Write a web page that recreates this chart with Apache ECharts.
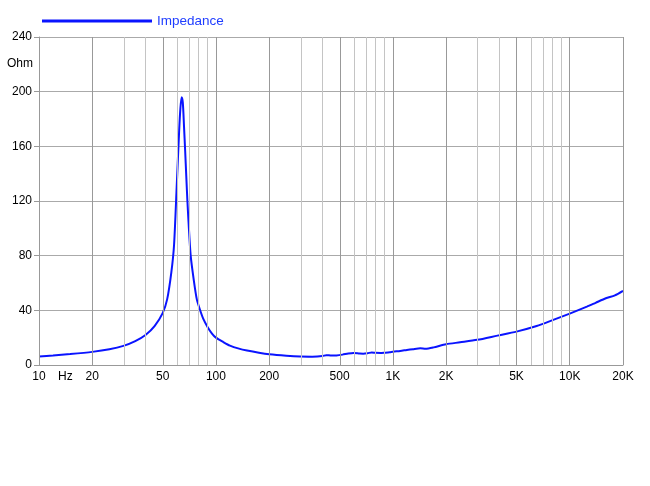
<!DOCTYPE html>
<html><head><meta charset="utf-8">
<script src="https://cdn.jsdelivr.net/npm/echarts@6/dist/echarts.min.js"></script>
<style>html,body{margin:0;padding:0;background:#fff}#c{width:650px;height:486px}</style>
</head><body><div id="c"></div>
<script>
const freqs = [10,12,15,20,25,30,35,40,45,50,53,56,58,60,62,63,64,65,66,67,68,69,70,72,75,78,81,85,90,95,100,110,120,135,150,175,200,250,300,350,400,420,450,480,520,560,600,650,680,720,760,800,850,900,960,1000,1100,1200,1300,1430,1530,1700,2000,2400,3000,3900,5000,6500,8000,10000,12500,14000,16000,18000,20000];
const impedance = [6.3,7.0,8.0,9.6,11.5,14,17.5,22,28.5,38,48,68,88,130,172,188,196,192,175,157,138,120,105,80,62,48,41,33.5,27.5,23,20,16.8,14.2,12.0,10.6,9.0,7.9,6.8,6.2,6.1,6.5,7.2,6.9,7.0,7.6,8.4,8.8,8.4,8.3,8.6,9.2,8.9,8.8,9.0,9.3,9.7,10.3,11.0,11.6,12.2,11.9,12.9,15.2,16.6,18.4,21.5,24.4,28.5,32.8,37.6,42.7,45.5,48.8,51.0,54.3];
const labelFreqs = [10,20,50,100,200,500,1000,2000,5000,10000,20000];
const gridFreqs = [10,20,30,40,50,60,70,80,90,100,200,300,400,500,600,700,800,900,1000,2000,3000,4000,5000,6000,7000,8000,9000,10000,20000];
const yTicks = [0,40,80,120,160,200,240];

const L = Math.log10;
function fmt(f){ return f >= 1000 ? (f/1000) + 'K' : String(f); }
const chart = echarts.init(document.getElementById('c'));
const font = 'Liberation Sans, Arial, sans-serif';
chart.setOption({
  animation: false,
  textStyle: {fontFamily: font},
  legend: {left: 37, top: 9, itemWidth: 110, itemHeight: 3, itemGap: 4,
    textStyle: {color: '#1f3dff', fontSize: 13.5, fontFamily: font},
    data: [{name: 'Impedance', icon: 'rect'}]},
  grid: {left: 39, right: 27, top: 37, bottom: 121},
  xAxis: {type: 'value', min: 1, max: L(20000),
    axisLine: {show: true, lineStyle: {color: '#999'}},
    axisTick: {show: false},
    splitLine: {show: false},
    axisLabel: {customValues: labelFreqs.map(L), color: '#000', fontSize: 12, margin: 6,
      formatter: v => fmt(Math.round(Math.pow(10, v)))}},
  yAxis: {type: 'value', min: 0, max: 240, interval: 40,
    axisLine: {show: true, lineStyle: {color: '#999'}},
    axisTick: {show: true, length: 5, lineStyle: {color: '#999'}},
    splitLine: {show: true, lineStyle: {color: '#aaa'}},
    axisLabel: {color: '#000', fontSize: 12, margin: 7}},
  graphic: [
    {type: 'text', left: 7, top: 58, style: {text: 'Ohm', font: '12px ' + font, fill: '#000'}},
    {type: 'text', left: 58, top: 371, style: {text: 'Hz', font: '12px ' + font, fill: '#000'}}
  ],
  series: [
    {name: 'grid', type: 'line', data: [], silent: true,
      markLine: {silent: true, symbol: 'none', label: {show: false}, animation: false,
        data: gridFreqs.map(f => ({xAxis: L(f), lineStyle: {color: labelFreqs.includes(f) ? '#999' : '#c4c4c4', width: 1, type: 'solid'}}))}},
    {name: 'Impedance', type: 'line', showSymbol: false, symbol: 'none', smooth: 0.25,
      lineStyle: {color: '#0a14ff', width: 2}, itemStyle: {color: '#0a14ff'},
      data: freqs.map((f, i) => [L(f), impedance[i]])}
  ]
});
</script></body></html>
